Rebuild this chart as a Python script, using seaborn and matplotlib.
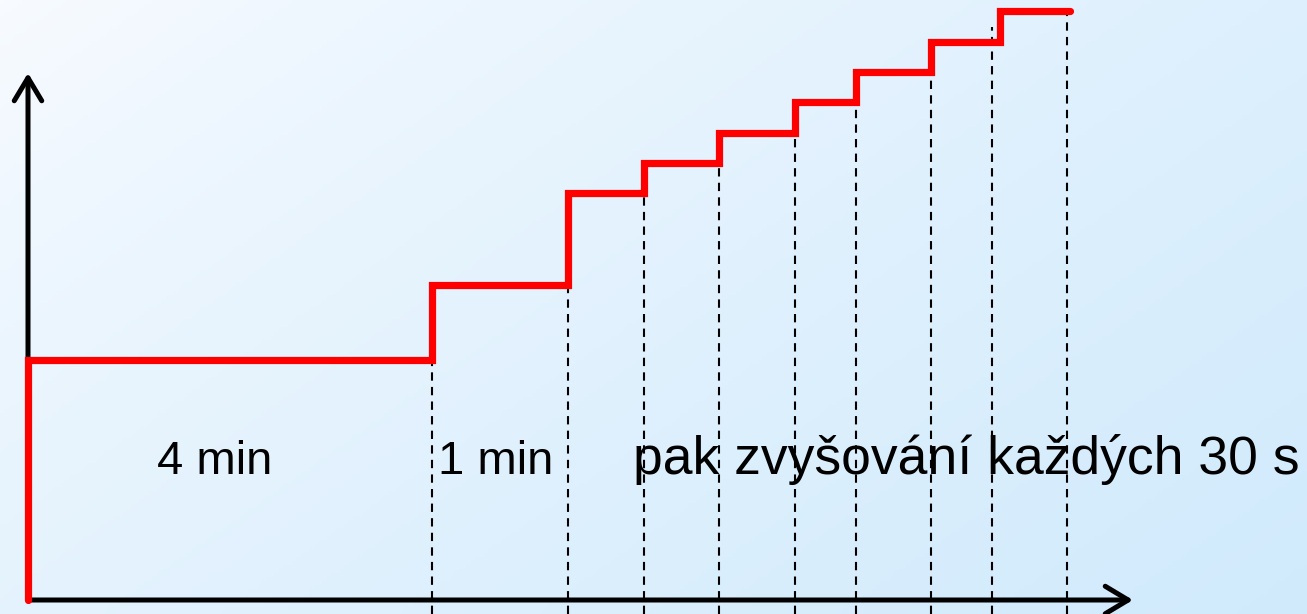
import numpy as np
import matplotlib
matplotlib.use("Agg")
import matplotlib.pyplot as plt
import seaborn as sns
import pandas as pd

sns.set_theme(style="white")
plt.rcParams['font.family'] = ['Liberation Sans', 'DejaVu Sans']

# Step edges (horizontal position, relative units from the axis origin)
step_edges = [0, 404, 540, 616, 691, 767, 828, 903, 972, 1042]
# Load levels for each stage (height above the x-axis)
step_levels = [240, 315, 407, 437, 467, 498, 528, 558, 589]
# Dashed marker lines: positions and top heights
mark_x = [404, 540, 616, 691, 767, 828, 903, 964, 1039]
mark_top = [240, 315, 422, 437, 467, 528, 528, 573, 589]
# Labels
labels = ["4 min", "1 min", "pak zvyšování každých 30 s"]
label_x = [187, 468, 605]
label_ha = ["center", "center", "left"]
label_size = [34, 34, 38.5]

W, H = 1307, 614
fig = plt.figure(figsize=(W / 100, H / 100), dpi=100)
ax = fig.add_axes([0, 0, 1, 1])
x0, x1, y0, y1 = -28, W - 28, -14, H - 14
ax.set_xlim(x0, x1)
ax.set_ylim(y0, y1)
ax.axis("off")

# background gradient (white top-left -> light blue bottom-right)
gx, gy = np.meshgrid(np.linspace(0, 1, 300), np.linspace(0, 1, 150))
t = np.clip(gx * 0.6 + gy * 0.4, 0, 1) ** 0.8
c0 = np.array([248, 251, 255]) / 255
c1 = np.array([208, 234, 252]) / 255
img = c0[None, None, :] * (1 - t[..., None]) + c1[None, None, :] * t[..., None]
ax.imshow(img, extent=[x0, x1, y0, y1], origin="upper", aspect="auto", zorder=0)

# build step line vertices
xs, ys = [0], [0]
for i, lvl in enumerate(step_levels):
    xs += [step_edges[i], step_edges[i + 1]]
    ys += [lvl, lvl]
df = pd.DataFrame({"x": xs, "y": ys})

# dashed markers
ax.vlines(mark_x, y0, mark_top, colors="black", linestyles=(0, (4, 3)), linewidth=1.5, zorder=2)

# axes arrows
arrow_kw = dict(arrowstyle="->,head_length=0.75,head_width=0.45", lw=3.6, color="black",
                mutation_scale=22, shrinkA=0, shrinkB=0, capstyle="round", joinstyle="round")
ax.annotate("", xy=(0, 527), xytext=(0, 0), arrowprops=arrow_kw, zorder=3)
ax.annotate("", xy=(1105, 0), xytext=(0, 0), arrowprops=arrow_kw, zorder=3)

sns.lineplot(data=df, x="x", y="y", sort=False, estimator=None, color="#ff0000",
             linewidth=5.2, ax=ax, zorder=4, solid_joinstyle="miter")

for txt, lx, ha, fs in zip(labels, label_x, label_ha, label_size):
    ax.text(lx, 126, txt, ha=ha, va="baseline", fontsize=fs, color="black", zorder=5)

fig.savefig("out.png", dpi=100)
